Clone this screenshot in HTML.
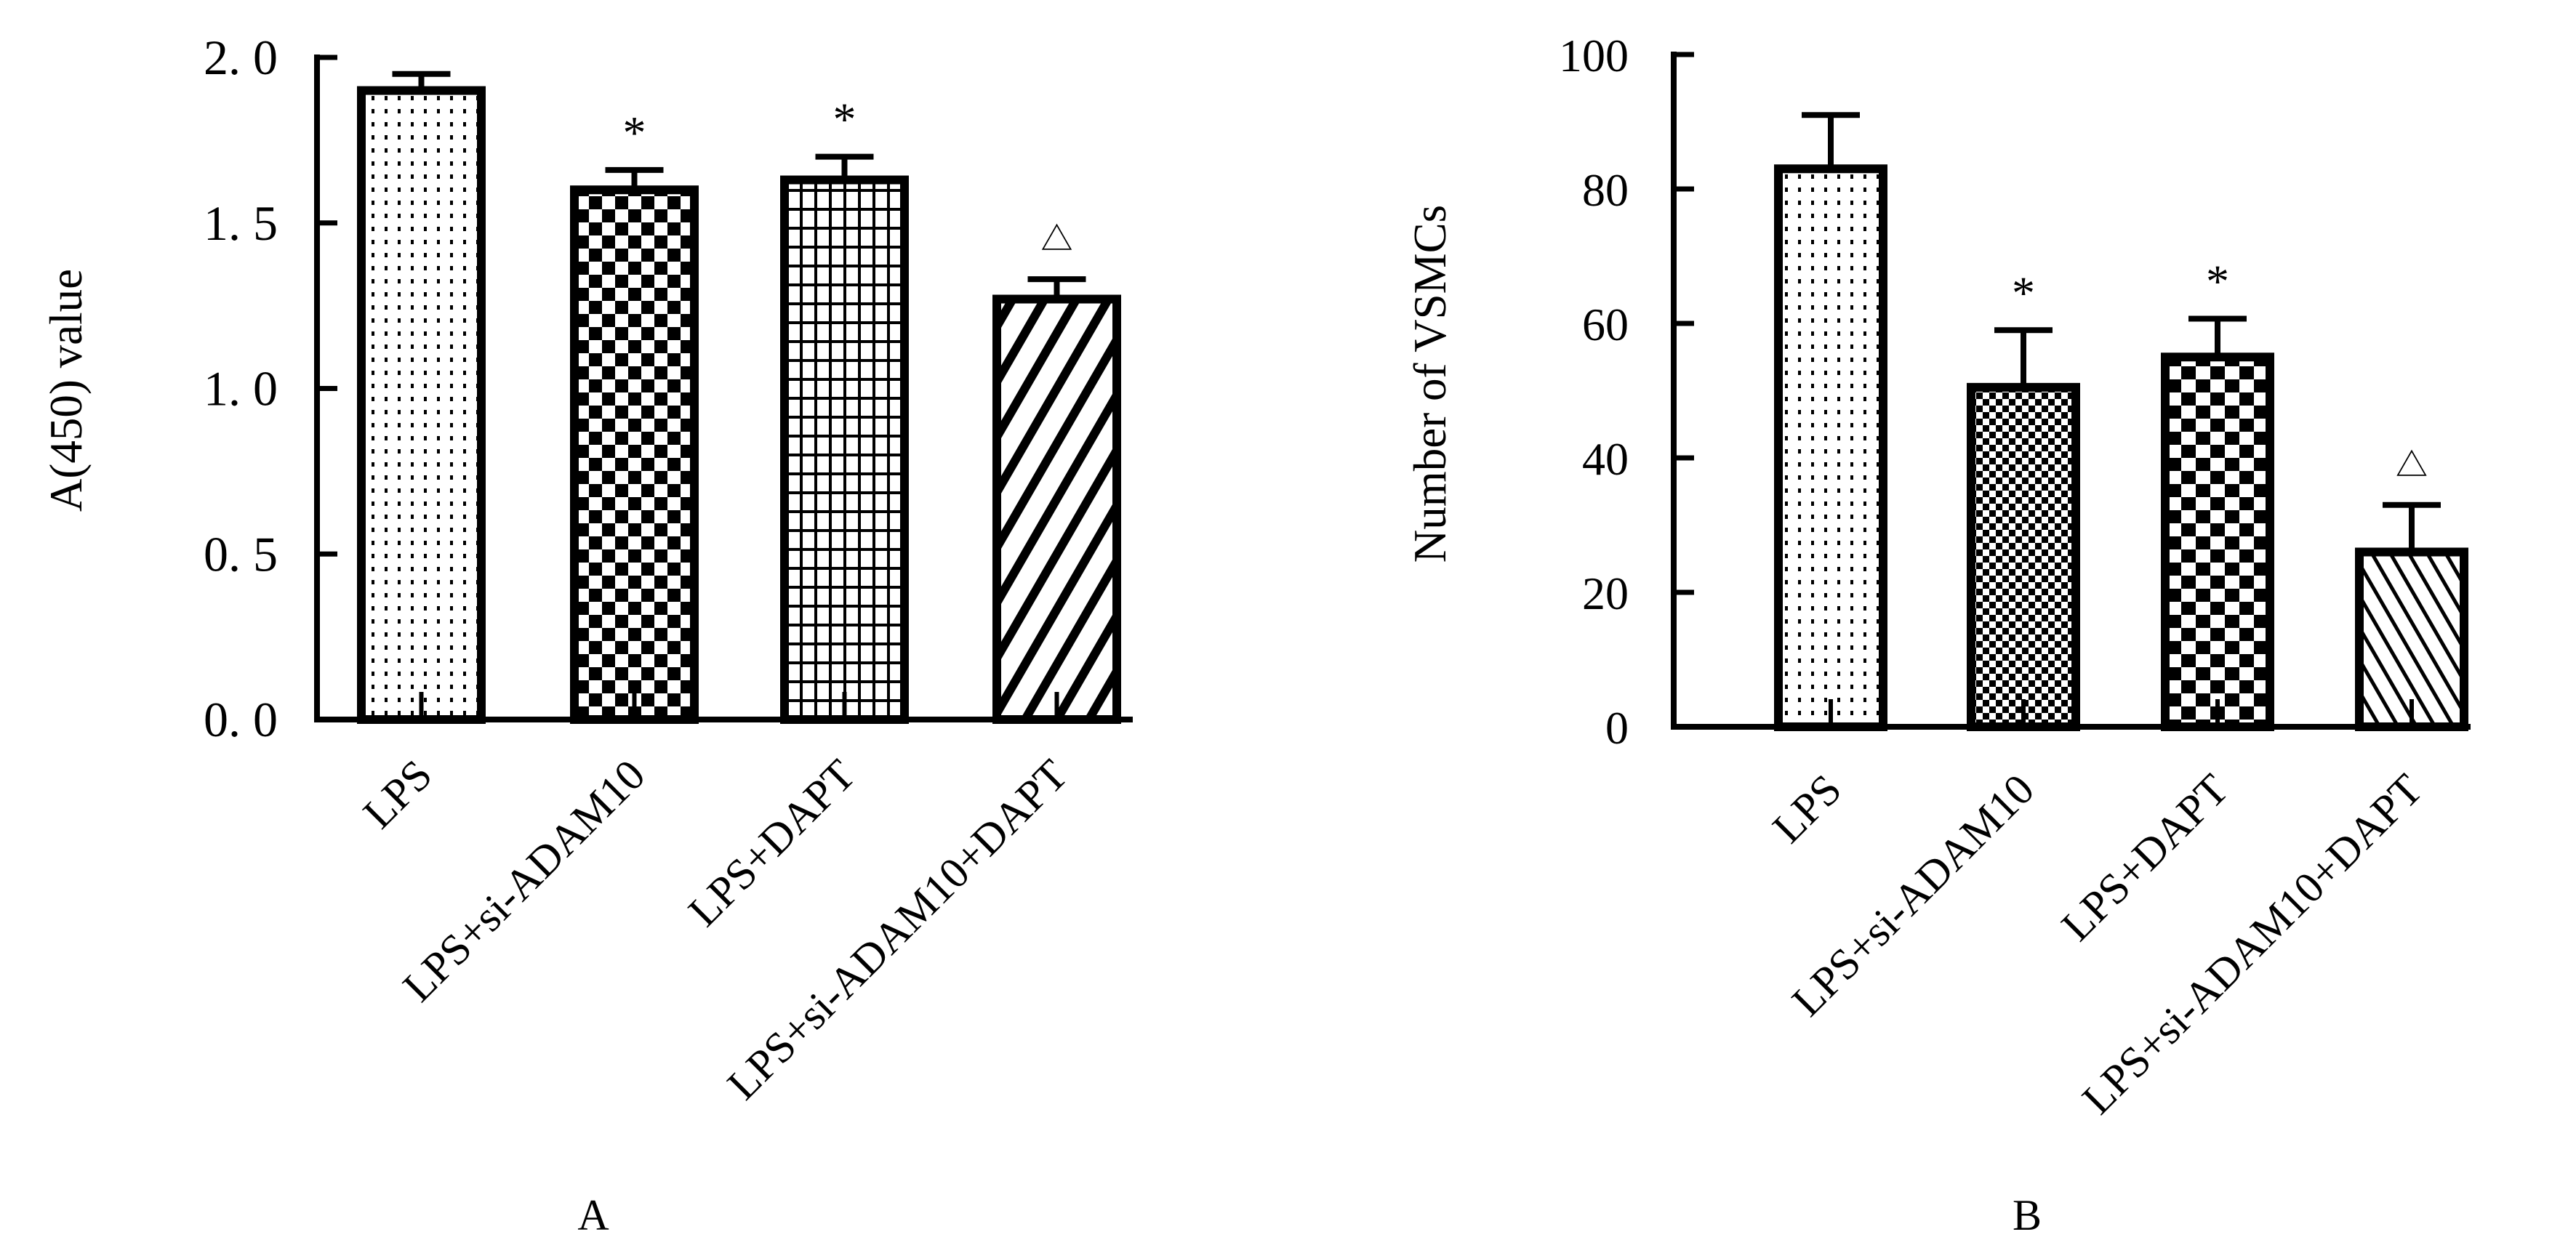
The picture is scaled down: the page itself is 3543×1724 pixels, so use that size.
<!DOCTYPE html>
<html><head><meta charset="utf-8"><style>
html,body{margin:0;padding:0;background:#fff;}
svg{display:block;}
text{font-family:"Liberation Serif","Noto Serif CJK SC",serif;fill:#000;}
</style></head><body>
<svg id="fig" xmlns="http://www.w3.org/2000/svg" width="3543" height="1724" viewBox="0 0 3543 1724">
<defs>
<pattern id="pDots" width="18" height="18" patternUnits="userSpaceOnUse"><rect x="7" y="6" width="4" height="6" fill="#000"/></pattern>
<pattern id="pChk" width="36" height="36" patternUnits="userSpaceOnUse"><rect width="18" height="18" fill="#000"/><rect x="18" y="18" width="18" height="18" fill="#000"/></pattern>
<pattern id="pGrid" width="20" height="26" patternUnits="userSpaceOnUse"><rect x="0" y="0" width="4" height="26" fill="#000"/><rect x="0" y="0" width="20" height="4" fill="#000"/></pattern>
<pattern id="pDiag" width="38" height="38" patternUnits="userSpaceOnUse" patternTransform="rotate(30)"><rect x="0" y="0" width="12" height="38" fill="#000"/></pattern>
<pattern id="pChkF" width="18" height="18" patternUnits="userSpaceOnUse"><rect width="9" height="9" fill="#000"/><rect x="9" y="9" width="9" height="9" fill="#000"/></pattern>
<pattern id="pChkC" width="40" height="36" patternUnits="userSpaceOnUse"><rect width="20" height="18" fill="#000"/><rect x="20" y="18" width="20" height="18" fill="#000"/></pattern>
<pattern id="pDiagB" width="22" height="22" patternUnits="userSpaceOnUse" patternTransform="rotate(-30)"><rect x="0" y="0" width="5" height="22" fill="#000"/></pattern>
</defs>
<g id="chartA"></g>
<g id="chartB"></g>
</svg>
<script>
const categories = ["LPS","LPS+si-ADAM10","LPS+DAPT","LPS+si-ADAM10+DAPT"];
const valuesA = [1.90, 1.60, 1.63, 1.27];
const errorsA = [0.05, 0.06, 0.07, 0.06];
const marksA = ["", "*", "*", "△"];
const ticksA = [0, 0.5, 1.0, 1.5, 2.0];
const tickLabelsA = ["0. 0","0. 5","1. 0","1. 5","2. 0"];
const valuesB = [83, 50.5, 55, 26];
const errorsB = [8, 8.5, 5.7, 7];
const marksB = ["", "*", "*", "△"];
const ticksB = [0, 20, 40, 60, 80, 100];
const tickLabelsB = ["0","20","40","60","80","100"];

const NS = "http://www.w3.org/2000/svg";
function mk(parent, tag, attrs){ const e=document.createElementNS(NS,tag); for(const k in attrs) e.setAttribute(k,attrs[k]); parent.appendChild(e); return e; }

function draw(g, cfg){
  const y = v => cfg.y0 - (v - cfg.min)/(cfg.max - cfg.min)*(cfg.y0 - cfg.yTop);
  cfg.values.forEach((v,i)=>{
    const x0 = cfg.barX[i], w = cfg.barW;
    const cx = x0 + w/2;
    const top = y(v);
    const et = y(v + cfg.errors[i]);
    const eb = mk(g,"line",{x1:cx,x2:cx,y1:top,y2:et,stroke:"#000","stroke-width":8});
    
    
    const cap = mk(g,"line",{x1:cx-cfg.cap,x2:cx+cfg.cap,y1:et,y2:et,stroke:"#000","stroke-width":8});
    
    
    const r = mk(g,"rect",{x:x0,y:top,width:w,height:cfg.y0-top,fill:"url(#"+cfg.fills[i]+")",stroke:"#000","stroke-width":12});
    
    
    const stub = mk(g,"line",{x1:cx,x2:cx,y1:cfg.y0,y2:cfg.y0-38,stroke:"#000","stroke-width":6});
    
    
    if(cfg.marks[i]){
      const star = cfg.marks[i]==="*";
      const m = mk(g,"text",{x:cx,y:et-(star?30:40),"text-anchor":"middle","font-size":star?64:44});
      m.textContent = cfg.marks[i];
      
      
    }
    const t = mk(g,"text",{x:0,y:0,"text-anchor":"end","font-size":60,transform:`translate(${cx+18},${cfg.y0+cfg.labOff}) rotate(-45)`});
    t.textContent = categories[i];
    
    
  });
  const ya = mk(g,"line",{x1:cfg.ax,x2:cfg.ax,y1:cfg.yTop-4,y2:cfg.y0+4,stroke:"#000","stroke-width":8});
  
  
  const xa = mk(g,"line",{x1:cfg.ax-4,x2:cfg.axEnd,y1:cfg.y0,y2:cfg.y0,stroke:"#000","stroke-width":8});
  
  
  cfg.ticks.forEach((v,i)=>{
    const ty=y(v);
    const tk = mk(g,"line",{x1:cfg.ax,x2:cfg.ax+28,y1:ty,y2:ty,stroke:"#000","stroke-width":7});
    
    
    const tl = mk(g,"text",{x:cfg.tickX,y:ty+23,"text-anchor":"end","font-size":cfg.tickSize});
    tl.textContent = cfg.tickLabels[i];
    
    
  });
  const yt = mk(g,"text",{x:0,y:0,"text-anchor":"middle","font-size":63,transform:`translate(${cfg.titleX},${cfg.titleY}) rotate(-90)`});
  yt.textContent = cfg.title;
  
  
  const pl = mk(g,"text",{x:cfg.panelX,y:1692,"text-anchor":"middle","font-size":60});
  pl.textContent = cfg.panel;
  
  
}

draw(document.getElementById("chartA"),{
  values:valuesA, errors:errorsA, marks:marksA, ticks:ticksA, tickLabels:tickLabelsA,
  min:0, max:2.0, y0:990, yTop:79, ax:436, axEnd:1558, barX:[497,790,1079,1371], barW:165, cap:40,
  fills:["pDots","pChk","pGrid","pDiag"], tickX:382, tickSize:68, titleX:112, titleY:537, title:"A(450) value",
  panel:"A", panelX:816, labOff:80
});
draw(document.getElementById("chartB"),{
  values:valuesB, errors:errorsB, marks:marksB, ticks:ticksB, tickLabels:tickLabelsB,
  min:0, max:100, y0:1000, yTop:75, ax:2302, axEnd:3398, barX:[2446,2711,2978,3245], barW:144, cap:40,
  fills:["pDots","pChkF","pChkC","pDiagB"], tickX:2240, tickSize:64, titleX:1988, titleY:528, title:"Number of VSMCs",
  panel:"B", panelX:2788, labOff:90
});
</script>
</body></html>
